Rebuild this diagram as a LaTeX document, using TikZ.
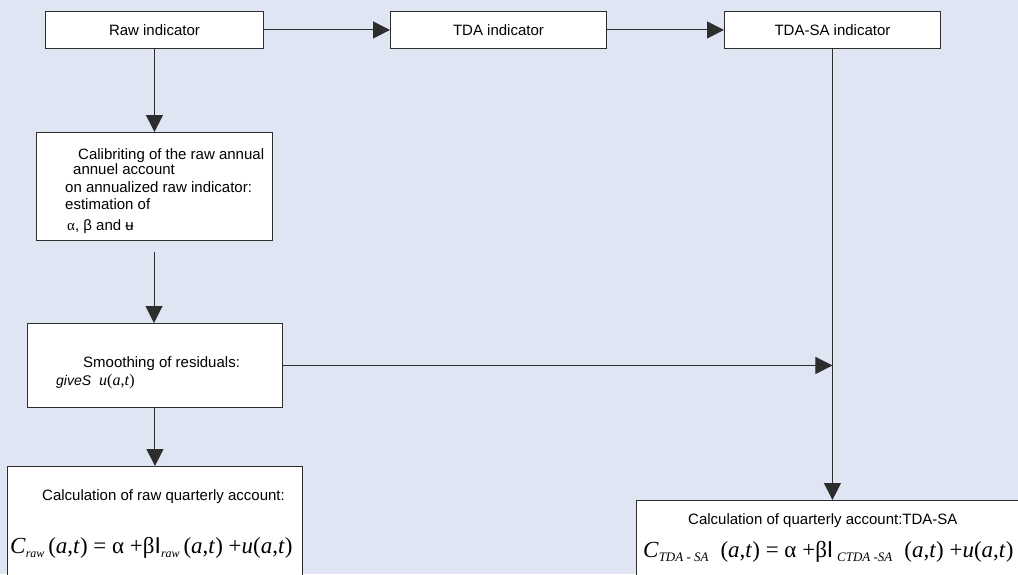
\documentclass[tikz,border=0pt]{standalone}
\usepackage{fontspec}
\setmainfont{Liberation Sans}
\newfontfamily\tms{Liberation Serif}
\newfontfamily\arl{Liberation Sans}
\usetikzlibrary{arrows.meta}
\definecolor{bgc}{RGB}{223,229,243}
\definecolor{lnc}{RGB}{45,45,45}
\newcommand\sbs[1]{\raisebox{-4pt}{\fontsize{12}{12}\selectfont\itshape #1}}
\newcommand\sbb[1]{\raisebox{-4pt}{\fontsize{13}{13}\selectfont\itshape #1}}
\newcommand\argat{(\textit{a},\textit{t})}
\begin{document}
\begin{tikzpicture}[x=1pt,y=-1pt,
  box/.style={draw=lnc, line width=0.9pt, fill=white, inner sep=0pt, anchor=north west},
  topbox/.style={box, minimum height=37pt, font=\fontsize{15}{17}\selectfont},
  txt/.style={anchor=base west, inner sep=0pt, font=\fontsize{15}{17}\selectfont},
  eqtxt/.style={anchor=base west, inner sep=0pt, font=\tms\fontsize{23}{25}\selectfont},
  arr/.style={draw=lnc, line width=1pt, -{Triangle[length=17pt,width=17pt]}}]
\useasboundingbox (0,0) rectangle (1018,574);
\fill[bgc] (0,0) rectangle (1018,574);
\clip (0,0) rectangle (1018,574);

% boxes
\node[topbox, minimum width=218pt] (raw) at (45,11) {Raw indicator};
\node[topbox, minimum width=216pt] (tda) at (390,11) {TDA indicator};
\node[topbox, minimum width=216pt] (tdasa) at (724,11) {TDA-SA indicator};
\node[box, minimum width=236pt, minimum height=108pt] (calib) at (36,132) {};
\node[box, minimum width=255pt, minimum height=84pt] (smooth) at (27,323) {};
\node[box, minimum width=295pt, minimum height=130pt] (rawcalc) at (7,466) {};
\node[box, minimum width=400pt, minimum height=100pt] (sacalc) at (636,500) {};

% texts
\node[txt] (c1) at (78,159) {Calibriting of the raw annual};
\node[txt] (c2) at (73,174) {annuel account};
\node[txt] (c3) at (65,192) {on annualized raw indicator:};
\node[txt] (c4) at (65,209) {estimation of};
\node[txt] (c5) at (67,230) {{\tms α}, β and ʉ};
\node[txt] (s1) at (83,367) {Smoothing of residuals:};
\node[txt] (s2) at (56,385) {{\fontsize{14}{16}\selectfont\itshape giveS}\hspace{8pt}{\tms\fontsize{16}{18}\selectfont\itshape u}{\tms\fontsize{16}{18}\selectfont\argat}};
\node[txt] (r1) at (42,500) {Calculation of raw quarterly account:};
\node[eqtxt] (r2) at (10,553) {\textit{C}\sbs{raw}\,\argat{} = α +β{\arl I}\sbs{raw}\,\argat{} +\textit{u}\argat};
\node[txt] (q1) at (688,524) {Calculation of quarterly account:TDA-SA};
\node[eqtxt] (q2) at (643,557) {\textit{C}\sbb{TDA - SA}\hspace{12pt}\argat{} = α +β{\arl I}\,\sbb{CTDA -SA}\hspace{12pt}\argat{} +\textit{u}\argat};

% connectors
\draw[arr] (raw.east) -- (tda.west);
\draw[arr] (tda.east) -- (tdasa.west);
\draw[arr] (raw.south) -- (raw.south |- calib.north);
\coordinate (cs) at (154,252);
\draw[arr] (cs) -- (cs |- smooth.north);
\draw[arr] (smooth.south) -- (smooth.south |- rawcalc.north);
\draw[arr] (tdasa.south) -- (tdasa.south |- sacalc.north);
\draw[arr] (smooth.east) -- (tdasa.south |- smooth.east);
\end{tikzpicture}
\end{document}
